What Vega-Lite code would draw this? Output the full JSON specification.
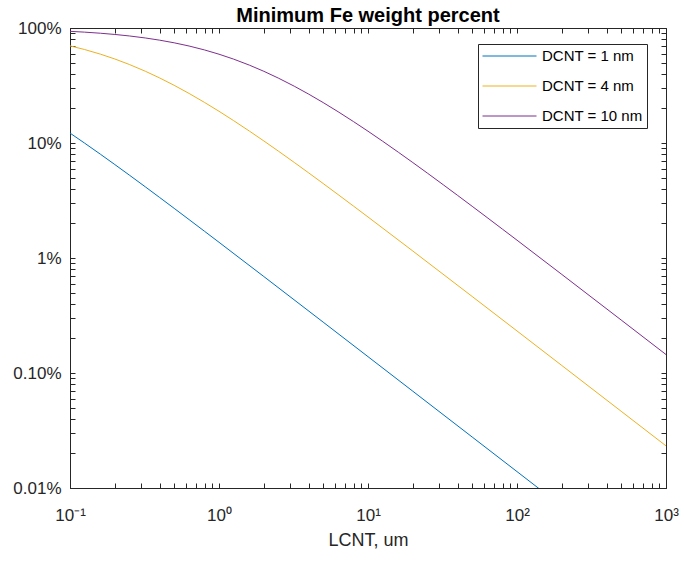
{
  "$schema": "https://vega.github.io/schema/vega-lite/v6.json",
  "width": 596,
  "height": 460,
  "autosize": "none",
  "padding": {"left": 70, "top": 28, "right": 18, "bottom": 75},
  "background": "white",
  "title": {"text": "Minimum Fe weight percent", "fontSize": 20, "fontWeight": "bold", "font": "Liberation Sans", "color": "#000000", "offset": -7, "anchor": "middle"},
  "config": {
    "view": {"stroke": "#262626", "strokeWidth": 1},
    "font": "Liberation Sans",
    "axis": {"grid": false, "labelFont": "Liberation Sans", "titleFont": "Liberation Sans", "labelColor": "#262626", "titleColor": "#262626", "tickColor": "#262626", "domainColor": "#262626", "labelFontSize": 17, "titleFontSize": 18, "titleFontWeight": "normal"}
  },
  "data": {"values": [
    {"L": 0.1, "f": 0.12195, "s": "DCNT = 1 nm"},
    {"L": 0.125, "f": 0.1, "s": "DCNT = 1 nm"},
    {"L": 0.16, "f": 0.07987, "s": "DCNT = 1 nm"},
    {"L": 0.2, "f": 0.064935, "s": "DCNT = 1 nm"},
    {"L": 0.25, "f": 0.052632, "s": "DCNT = 1 nm"},
    {"L": 0.32, "f": 0.041597, "s": "DCNT = 1 nm"},
    {"L": 0.4, "f": 0.033557, "s": "DCNT = 1 nm"},
    {"L": 0.5, "f": 0.027027, "s": "DCNT = 1 nm"},
    {"L": 0.63, "f": 0.02157, "s": "DCNT = 1 nm"},
    {"L": 0.8, "f": 0.017065, "s": "DCNT = 1 nm"},
    {"L": 1, "f": 0.013699, "s": "DCNT = 1 nm"},
    {"L": 2, "f": 0.0068966, "s": "DCNT = 1 nm"},
    {"L": 5, "f": 0.0027701, "s": "DCNT = 1 nm"},
    {"L": 10, "f": 0.001387, "s": "DCNT = 1 nm"},
    {"L": 20, "f": 0.00069396, "s": "DCNT = 1 nm"},
    {"L": 50, "f": 0.0002777, "s": "DCNT = 1 nm"},
    {"L": 100, "f": 0.00013887, "s": "DCNT = 1 nm"},
    {"L": 200, "f": 0.00006944, "s": "DCNT = 1 nm"},
    {"L": 1000, "f": 0.000013889, "s": "DCNT = 1 nm"},
    {"L": 0.1, "f": 0.6993, "s": "DCNT = 4 nm"},
    {"L": 0.125, "f": 0.65041, "s": "DCNT = 4 nm"},
    {"L": 0.16, "f": 0.59242, "s": "DCNT = 4 nm"},
    {"L": 0.2, "f": 0.53763, "s": "DCNT = 4 nm"},
    {"L": 0.25, "f": 0.48193, "s": "DCNT = 4 nm"},
    {"L": 0.32, "f": 0.42088, "s": "DCNT = 4 nm"},
    {"L": 0.4, "f": 0.36765, "s": "DCNT = 4 nm"},
    {"L": 0.5, "f": 0.31746, "s": "DCNT = 4 nm"},
    {"L": 0.63, "f": 0.26961, "s": "DCNT = 4 nm"},
    {"L": 0.8, "f": 0.22523, "s": "DCNT = 4 nm"},
    {"L": 1, "f": 0.18868, "s": "DCNT = 4 nm"},
    {"L": 1.25, "f": 0.15686, "s": "DCNT = 4 nm"},
    {"L": 1.6, "f": 0.1269, "s": "DCNT = 4 nm"},
    {"L": 2, "f": 0.10417, "s": "DCNT = 4 nm"},
    {"L": 2.5, "f": 0.085106, "s": "DCNT = 4 nm"},
    {"L": 3.2, "f": 0.067751, "s": "DCNT = 4 nm"},
    {"L": 4, "f": 0.054945, "s": "DCNT = 4 nm"},
    {"L": 5, "f": 0.044444, "s": "DCNT = 4 nm"},
    {"L": 6.3, "f": 0.0356, "s": "DCNT = 4 nm"},
    {"L": 8, "f": 0.028249, "s": "DCNT = 4 nm"},
    {"L": 10, "f": 0.022727, "s": "DCNT = 4 nm"},
    {"L": 20, "f": 0.011494, "s": "DCNT = 4 nm"},
    {"L": 50, "f": 0.0046296, "s": "DCNT = 4 nm"},
    {"L": 100, "f": 0.0023202, "s": "DCNT = 4 nm"},
    {"L": 200, "f": 0.0011614, "s": "DCNT = 4 nm"},
    {"L": 500, "f": 0.0004649, "s": "DCNT = 4 nm"},
    {"L": 1000, "f": 0.0002325, "s": "DCNT = 4 nm"},
    {"L": 0.1, "f": 0.93545, "s": "DCNT = 10 nm"},
    {"L": 0.125, "f": 0.9206, "s": "DCNT = 10 nm"},
    {"L": 0.16, "f": 0.90058, "s": "DCNT = 10 nm"},
    {"L": 0.2, "f": 0.87873, "s": "DCNT = 10 nm"},
    {"L": 0.25, "f": 0.85288, "s": "DCNT = 10 nm"},
    {"L": 0.32, "f": 0.81914, "s": "DCNT = 10 nm"},
    {"L": 0.4, "f": 0.7837, "s": "DCNT = 10 nm"},
    {"L": 0.5, "f": 0.74349, "s": "DCNT = 10 nm"},
    {"L": 0.63, "f": 0.69701, "s": "DCNT = 10 nm"},
    {"L": 0.8, "f": 0.64433, "s": "DCNT = 10 nm"},
    {"L": 1, "f": 0.59172, "s": "DCNT = 10 nm"},
    {"L": 1.25, "f": 0.53691, "s": "DCNT = 10 nm"},
    {"L": 1.6, "f": 0.47529, "s": "DCNT = 10 nm"},
    {"L": 2, "f": 0.42017, "s": "DCNT = 10 nm"},
    {"L": 2.5, "f": 0.36697, "s": "DCNT = 10 nm"},
    {"L": 3.2, "f": 0.31172, "s": "DCNT = 10 nm"},
    {"L": 4, "f": 0.26596, "s": "DCNT = 10 nm"},
    {"L": 5, "f": 0.22472, "s": "DCNT = 10 nm"},
    {"L": 6.3, "f": 0.18702, "s": "DCNT = 10 nm"},
    {"L": 8, "f": 0.15337, "s": "DCNT = 10 nm"},
    {"L": 10, "f": 0.12658, "s": "DCNT = 10 nm"},
    {"L": 12.5, "f": 0.1039, "s": "DCNT = 10 nm"},
    {"L": 16, "f": 0.083056, "s": "DCNT = 10 nm"},
    {"L": 20, "f": 0.067568, "s": "DCNT = 10 nm"},
    {"L": 25, "f": 0.054795, "s": "DCNT = 10 nm"},
    {"L": 32, "f": 0.043328, "s": "DCNT = 10 nm"},
    {"L": 40, "f": 0.034965, "s": "DCNT = 10 nm"},
    {"L": 50, "f": 0.028169, "s": "DCNT = 10 nm"},
    {"L": 63, "f": 0.022487, "s": "DCNT = 10 nm"},
    {"L": 80, "f": 0.017794, "s": "DCNT = 10 nm"},
    {"L": 100, "f": 0.014286, "s": "DCNT = 10 nm"},
    {"L": 200, "f": 0.0071942, "s": "DCNT = 10 nm"},
    {"L": 500, "f": 0.0028902, "s": "DCNT = 10 nm"},
    {"L": 1000, "f": 0.0014472, "s": "DCNT = 10 nm"}
  ]},
  "layer": [
    {
      "mark": {"type": "line", "clip": true, "strokeWidth": 1},
      "encoding": {
        "x": {"field": "L", "type": "quantitative", "scale": {"type": "log", "domain": [0.1, 1000], "nice": false},
          "axis": {"orient": "bottom", "title": "LCNT, um", "titlePadding": 8,
            "values": [0.1,0.2,0.3,0.4,0.5,0.6,0.7,0.8,0.9,1,2,3,4,5,6,7,8,9,10,20,30,40,50,60,70,80,90,100,200,300,400,500,600,700,800,900,1000],
            "labelExpr": "datum.value == 0.1 ? '10⁻¹' : datum.value == 1 ? '10⁰' : datum.value == 10 ? '10¹' : datum.value == 100 ? '10²' : datum.value == 1000 ? '10³' : ''",
            "tickSize": -5, "labelPadding": 24, "labelOverlap": false, "labelFlush": false}},
        "y": {"field": "f", "type": "quantitative", "scale": {"type": "log", "domain": [0.0001, 1], "nice": false},
          "axis": {"orient": "left", "title": null,
            "values": [0.0001,0.0002,0.0003,0.0004,0.0005,0.0006,0.0007,0.0008,0.0009,0.001,0.002,0.003,0.004,0.005,0.006,0.007,0.008,0.009,0.01,0.02,0.03,0.04,0.05,0.06,0.07,0.08,0.09,0.1,0.2,0.3,0.4,0.5,0.6,0.7,0.8,0.9,1],
            "labelExpr": "datum.value == 1 ? '100%' : datum.value == 0.1 ? '10%' : datum.value == 0.01 ? '1%' : datum.value == 0.001 ? '0.10%' : datum.value == 0.0001 ? '0.01%' : ''",
            "tickSize": -5, "labelPadding": 14, "labelOverlap": false, "labelFlush": false}},
        "color": {"field": "s", "type": "nominal",
          "scale": {"domain": ["DCNT = 1 nm", "DCNT = 4 nm", "DCNT = 10 nm"], "range": ["#0072BD", "#EDB120", "#7E2F8E"]},
          "legend": {"title": null, "orient": "none", "legendX": 408, "legendY": 16, "symbolType": "stroke", "symbolSize": 2916, "symbolStrokeWidth": 1, "clipHeight": 16, "labelFontSize": 15, "labelFont": "Liberation Sans", "labelColor": "#000000", "labelOffset": 5, "strokeColor": "#262626", "fillColor": "white", "padding": 4, "rowPadding": 14}}
      }
    },
    {
      "mark": {"type": "line", "clip": true, "strokeOpacity": 0},
      "encoding": {
        "x": {"field": "L", "type": "quantitative",
          "axis": {"orient": "top", "title": null, "labels": false, "domain": false,
            "values": [0.1,0.2,0.3,0.4,0.5,0.6,0.7,0.8,0.9,1,2,3,4,5,6,7,8,9,10,20,30,40,50,60,70,80,90,100,200,300,400,500,600,700,800,900,1000],
            "tickSize": -5}},
        "y": {"field": "f", "type": "quantitative",
          "axis": {"orient": "right", "title": null, "labels": false, "domain": false,
            "values": [0.0001,0.0002,0.0003,0.0004,0.0005,0.0006,0.0007,0.0008,0.0009,0.001,0.002,0.003,0.004,0.005,0.006,0.007,0.008,0.009,0.01,0.02,0.03,0.04,0.05,0.06,0.07,0.08,0.09,0.1,0.2,0.3,0.4,0.5,0.6,0.7,0.8,0.9,1],
            "tickSize": -5}},
        "detail": {"field": "s", "type": "nominal"}
      }
    }
  ],
  "resolve": {"axis": {"x": "independent", "y": "independent"}}
}
